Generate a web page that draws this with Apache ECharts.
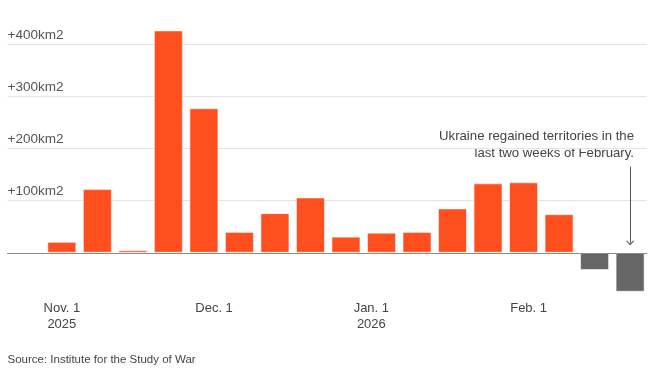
<!DOCTYPE html>
<html><head><meta charset="utf-8">
<script src="https://cdn.jsdelivr.net/npm/echarts@6/dist/echarts.min.js"></script>
<style>html,body{margin:0;padding:0;background:#fff}#c{width:665px;height:370px}</style>
</head><body><div id="c"></div>
<script>
// ---- data ----
const weeks = ['2025-11-01','2025-11-08','2025-11-15','2025-11-22','2025-11-29',
  '2025-12-06','2025-12-13','2025-12-20','2025-12-27','2026-01-03','2026-01-10',
  '2026-01-17','2026-01-24','2026-01-31','2026-02-07','2026-02-14','2026-02-21'];
const gains = [21, 122, 5, 426, 277, 40, 76, 106, 31, 38.5, 40, 85, 133, 135, 74, -33, -74.5];
const tickDates = ['2025-11-01','2025-12-01','2026-01-01','2026-02-01'];
const tickLabels = ['Nov. 1\n2025','Dec. 1','Jan. 1\n2026','Feb. 1'];
const yLabelValues = [100, 200, 300, 400];
const yUnit = 'km2';
const annotation = ['Ukraine regained territories in the', 'last two weeks of February.'];
const arrowRange = [165, 19];
const sourceText = 'Source: Institute for the Study of War';

// ---- helpers ----
const FONT = '"Liberation Sans", Arial, sans-serif';
const DAY = 864e5;
const toTs = s => { const [y, m, d] = s.split('-').map(Number); return Date.UTC(y, m - 1, d); };
const t0 = toTs(weeks[0]);
const toDay = s => (toTs(s) - t0) / DAY;   // days since first week
const weekDays = weeks.map(toDay);
const tickDays = tickDates.map(toDay);
const lastDay = weekDays[weekDays.length - 1];

const chart = echarts.init(document.getElementById('c'), null, {renderer: 'canvas'});
chart.setOption({
  animation: false,
  backgroundColor: '#fff',
  grid: {left: 7.5, right: 18.2, top: 17.9, bottom: 65, containLabel: false, outerBoundsMode: 'none'},
  xAxis: {
    type: 'value',
    min: weekDays[0] - 1.53 * 7,
    max: lastDay + 0.47 * 7,
    z: 3,
    axisLine: {show: true, onZero: true, lineStyle: {color: '#8a8a8a', width: 1}},
    axisTick: {show: false},
    splitLine: {show: false},
    axisLabel: {
      customValues: tickDays,
      formatter: v => { const i = tickDays.indexOf(v); return i >= 0 ? tickLabels[i] : ''; },
      margin: -4,
      color: '#444',
      fontSize: 13,
      lineHeight: 15.5,
      fontFamily: FONT
    }
  },
  yAxis: {
    type: 'value',
    min: -100, max: 450, interval: 100,
    axisLine: {show: false},
    axisTick: {show: false},
    splitLine: {show: true, showMinLine: false, showMaxLine: false, lineStyle: {color: '#e3e3e3', width: 1}},
    axisLabel: {
      inside: true,
      margin: 0,
      align: 'left',
      verticalAlign: 'bottom',
      padding: [0, 0, 2, 0],
      color: '#555',
      fontSize: 13.5,
      fontFamily: FONT,
      formatter: v => yLabelValues.indexOf(v) >= 0 ? '+' + v + yUnit : ''
    }
  },
  series: [{
    type: 'bar',
    barWidth: 29,
    data: weekDays.map((d, i) => [d, gains[i]]),
    itemStyle: {
      color: p => p.data[1] < 0 ? '#666666' : '#ff4f1f',
      borderColor: 'rgba(255,255,255,0.55)',
      borderWidth: 1
    },
    emphasis: {disabled: true},
    markLine: {
      silent: true,
      symbol: ['none', 'path://M0,5 L4,0 L8,5 L7.1,5.7 L4,2 L0.9,5.7 Z'],
      symbolSize: [8, 5],
      lineStyle: {color: '#555', width: 1, type: 'solid'},
      label: {show: false},
      emphasis: {disabled: true},
      data: [[{coord: [lastDay, arrowRange[0]]}, {coord: [lastDay, arrowRange[1]]}]]
    }
  }],
  graphic: [
    {
      type: 'text', x: 634, y: 128.5,
      style: {
        text: annotation.join('\n'), fill: '#444', font: '13.2px ' + FONT,
        lineHeight: 16.6, align: 'right', verticalAlign: 'top'
      }
    },
    {
      type: 'text', x: 7.5, y: 354,
      style: {text: sourceText, fill: '#444', font: '11.5px ' + FONT, verticalAlign: 'top'}
    }
  ]
});
</script>
</body></html>
